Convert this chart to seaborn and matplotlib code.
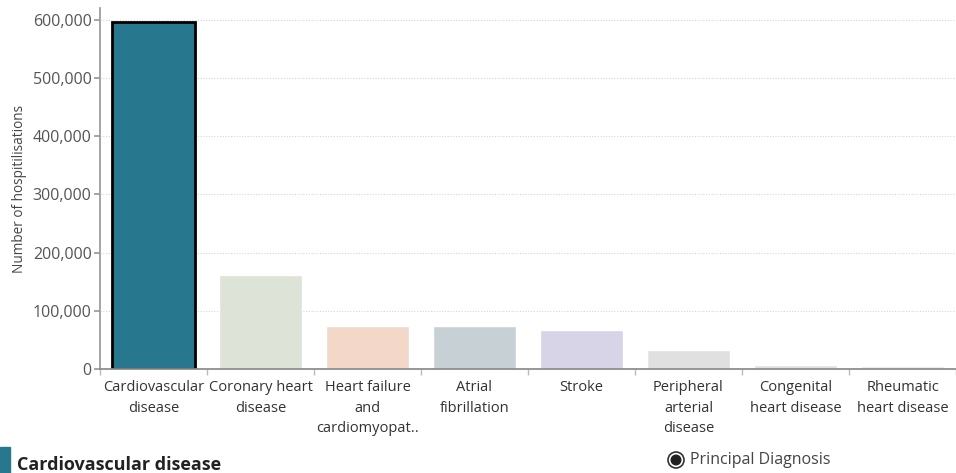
import matplotlib
matplotlib.use("Agg")
import matplotlib.pyplot as plt
import seaborn as sns
import pandas as pd
from matplotlib.patches import Rectangle, Circle
from matplotlib.ticker import FuncFormatter, FixedLocator

categories = ["Cardiovascular\ndisease", "Coronary heart\ndisease", "Heart failure\nand\ncardiomyopat..",
              "Atrial\nfibrillation", "Stroke", "Peripheral\narterial\ndisease",
              "Congenital\nheart disease", "Rheumatic\nheart disease"]
values = [596000, 162000, 74000, 74000, 67000, 33000, 7000, 4500]
colors = ["#27778f", "#dde3d6", "#f3d8ca", "#c7d1d5", "#d6d4e6", "#e0e0e0", "#dde1e6", "#e4e7eb"]

sns.set_theme(style="white")
plt.rcParams['font.family'] = ['Open Sans', 'DejaVu Sans']

df = pd.DataFrame({"cat": categories, "val": values})

fig = plt.figure(figsize=(9.56, 4.73), dpi=100)
W, H = 956, 473
ax = fig.add_axes([100 / W, (H - 369) / H, 856 / W, (369 - 8) / H])

sns.barplot(data=df, x="cat", y="val", hue="cat", palette=colors, legend=False,
            width=0.77, ax=ax, saturation=1)
ax.patches[0].set_edgecolor("black")
ax.patches[0].set_linewidth(2)

ax.set_ylim(0, 620600)
ax.set_xlim(-0.5, 7.5)
ax.set_yticks([0, 100000, 200000, 300000, 400000, 500000, 600000])
ax.yaxis.set_major_formatter(FuncFormatter(lambda v, p: f"{int(v):,}"))
ax.grid(axis="y", color="#d5d5d5", linestyle=(0, (1, 1.5)), linewidth=0.8)
ax.set_axisbelow(True)
for s in ["top", "right"]:
    ax.spines[s].set_visible(False)
ax.spines["left"].set_color("#9a9a9a")
ax.spines["bottom"].set_color("#8a8a8a")
ax.tick_params(axis="y", which="major", left=True, length=4, color="#9a9a9a",
               labelsize=11.5, labelcolor="#555555", pad=2)
ax.tick_params(axis="x", which="major", bottom=False, labelsize=10.5, labelcolor="#333333", pad=2)
ax.xaxis.set_minor_locator(FixedLocator([i + 0.5 for i in range(-1, 8)]))
ax.tick_params(axis="x", which="minor", bottom=True, length=4, color="#bbbbbb")
for t in ax.get_xticklabels():
    t.set_linespacing(1.5)
ax.set_xlabel("")
ax.set_ylabel("Number of hospitilisations", fontsize=9.8, color="#444444", labelpad=4)

# bottom annotations
fig.patches.append(Rectangle((0, 0), 10 / W, 26 / H, transform=fig.transFigure,
                             color="#27778f", zorder=5))
fig.text(17 / W, 3 / H, "Cardiovascular disease", fontsize=13, fontweight="bold",
         color="#222222", va="baseline", ha="left")
fig.patches.append(Circle((6.76, 0.13), 0.08, transform=fig.dpi_scale_trans,
                          facecolor="white", edgecolor="#333333", lw=1.2, zorder=5))
fig.patches.append(Circle((6.76, 0.13), 0.055, transform=fig.dpi_scale_trans,
                          facecolor="#222222", edgecolor="none", zorder=6))
fig.text(690 / W, 13 / H, "Principal Diagnosis", fontsize=11.5, color="#444444",
         va="center", ha="left")

fig.savefig("out.png", dpi=100)
